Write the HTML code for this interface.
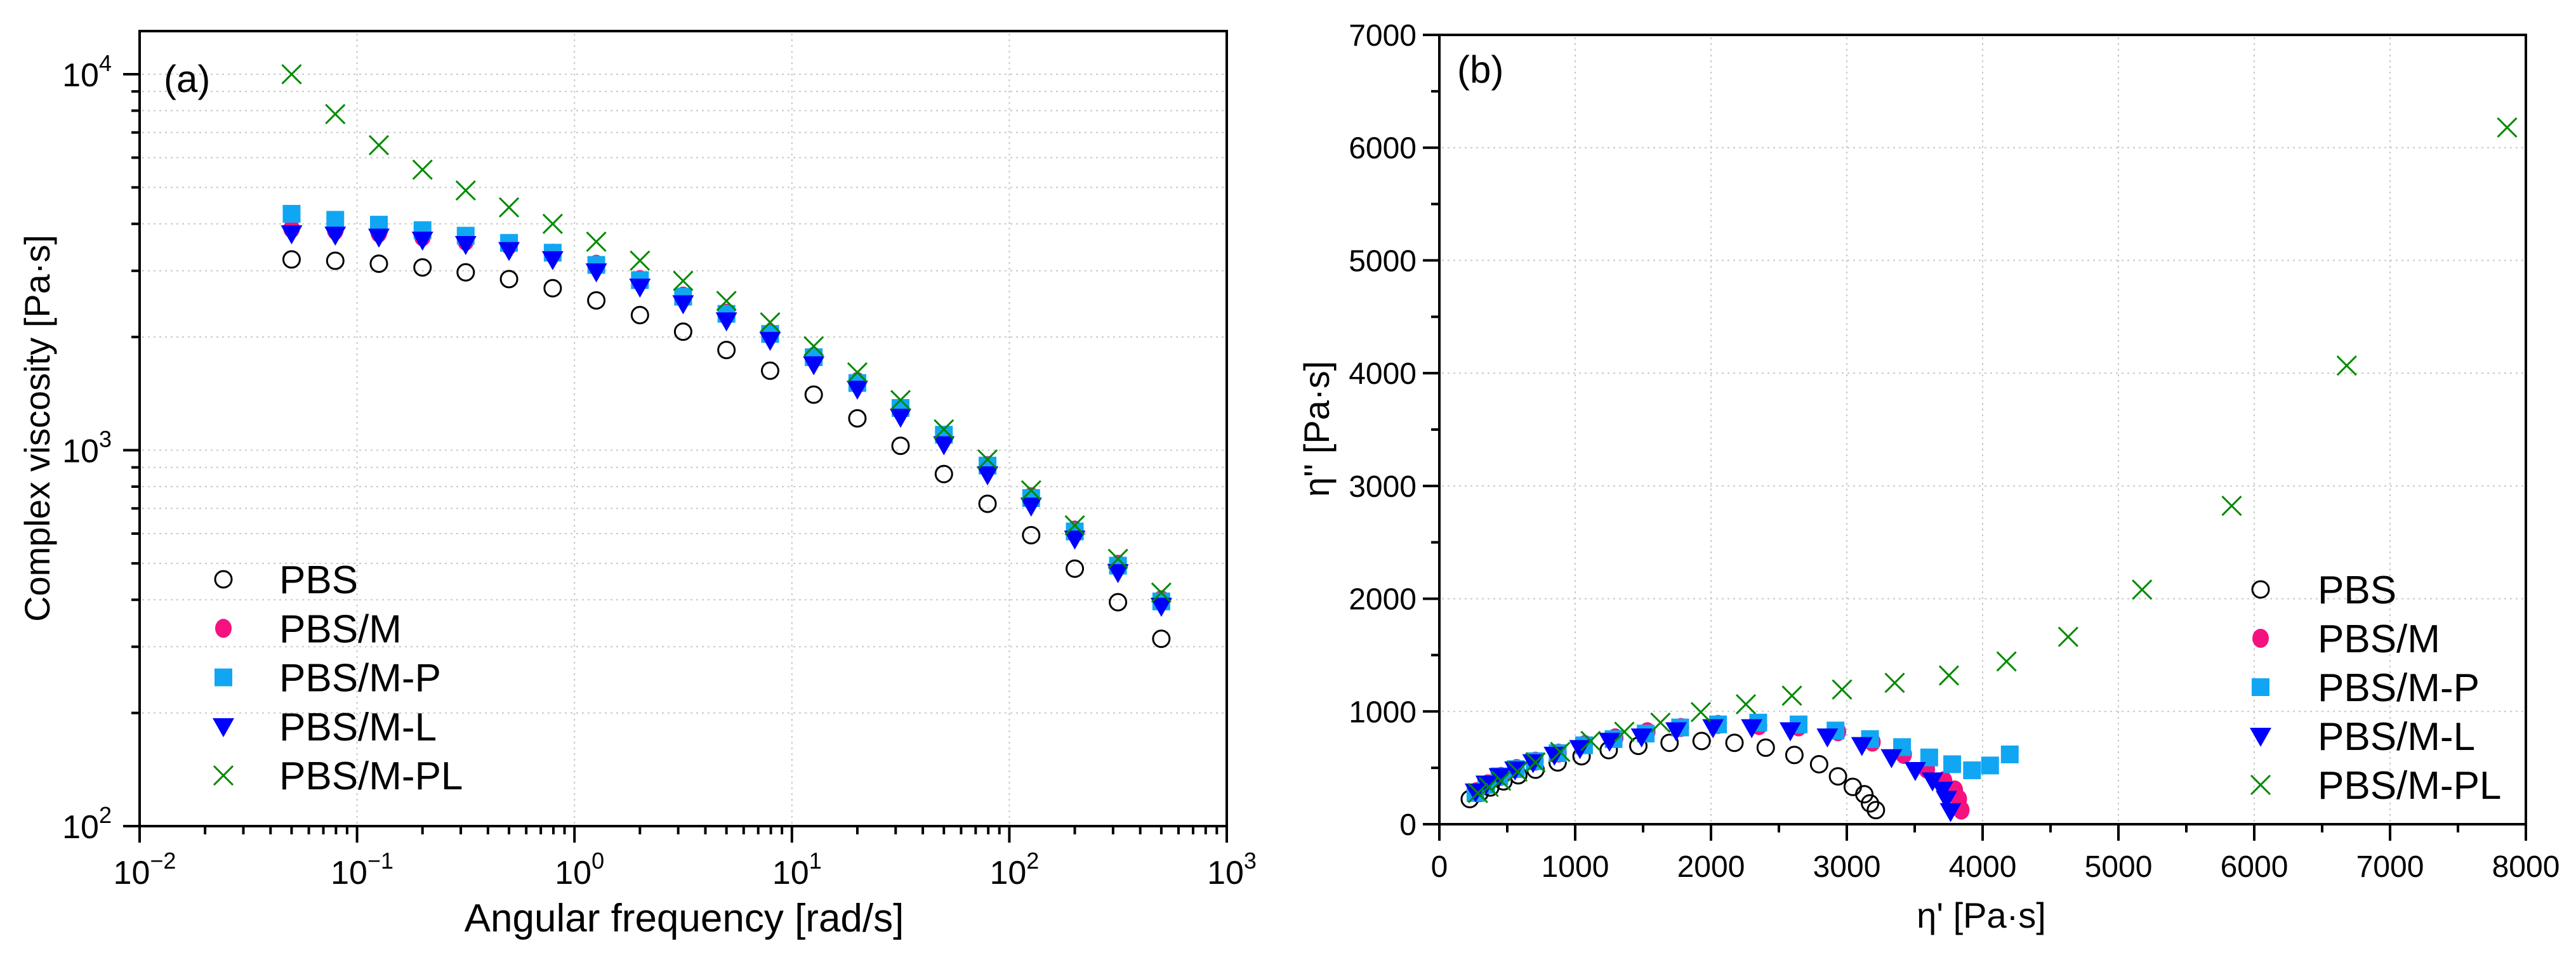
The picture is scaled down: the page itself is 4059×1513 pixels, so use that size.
<!DOCTYPE html>
<html><head><meta charset="utf-8">
<style>
html,body{margin:0;padding:0;background:#fff;}
svg{display:block;font-family:"Liberation Sans",Arial,sans-serif;}
</style></head>
<body>
<svg id="fig" width="4059" height="1513" viewBox="0 0 4059 1513" xmlns="http://www.w3.org/2000/svg">
<rect x="0" y="0" width="4059" height="1513" fill="#fff"/>
<g id="pa"></g>
<g id="pb"></g>
</svg>
<script>
// ---------- Panel (a) data ----------
const freq = [0.05,0.0794,0.126,0.2,0.316,0.5,0.794,1.26,2,3.16,5,7.94,12.6,20,31.6,50,79.4,126,200,316,500];
const etaPBS = [3216,3190,3133,3063,2971,2852,2697,2502,2287,2066,1847,1627,1405,1215,1027,864,720,594,484,394,315];
const etaM = [3883,3838,3779,3692,3594,3505,3340,3122,2843,2570,2314,2045,1775,1522,1295,1095,910,752,613,497,400];
const etaMP = [4254,4100,3980,3849,3720,3560,3352,3110,2833,2560,2305,2038,1767,1509,1295,1099,910,746,608,493,396];
const etaML = [3768,3737,3692,3625,3530,3402,3216,2984,2719,2455,2211,1963,1690,1455,1225,1035,861,711,581,473,385];
const etaMPL = [10000,7834,6476,5573,4907,4424,4000,3585,3193,2821,2494,2188,1890,1610,1359,1136,945,782,631,514,418];
const xTickExpA = [-2,-1,0,1,2,3];
const yTickExpA = [2,3,4];

// ---------- Panel (b) data ----------
const pbsRe = [3214,3171,3129,3044,2935,2796,2614,2403,2173,1931,1695,1465,1247,1047,871,708,581,472,375,297,224];
const pbsIm = [125,185,266,331,424,532,614,679,722,738,722,695,657,603,548,483,434,380,326,277,223];
const mRe = [3843,3825,3795,3716,3589,3419,3189,2935,2645,2354,2052,1779,1531,1295,1071,878,708,569,454,357,272];
const mIm = [125,223,304,386,489,619,728,820,863,874,885,858,820,766,706,630,559,494,424,358,288];
const mpRe = [4200,4055,3922,3776,3607,3407,3171,2917,2645,2348,2052,1773,1519,1283,1065,871,702,563,442,345,266];
const mpIm = [619,521,478,532,592,684,755,831,885,901,885,858,804,755,700,630,559,489,424,348,277];
const mlRe = [3764,3734,3704,3631,3504,3329,3111,2857,2584,2300,2015,1743,1489,1253,1035,847,690,557,442,345,266];
const mlIm = [114,223,304,386,478,592,700,776,831,858,858,831,776,738,673,614,548,483,424,358,288];
const mplRe = [7862,6681,5834,5174,4630,4176,3752,3353,2965,2596,2257,1925,1628,1362,1114,890,708,575,454,363,284];
const mplIm = [6179,4067,2824,2080,1662,1444,1319,1254,1195,1140,1064,994,901,820,738,641,548,467,386,331,277];
const xTicksB = [0,1000,2000,3000,4000,5000,6000,7000,8000];
const yTicksB = [0,1000,2000,3000,4000,5000,6000,7000];

const legendNames = ["PBS","PBS/M","PBS/M-P","PBS/M-L","PBS/M-PL"];

const NS = "http://www.w3.org/2000/svg";
function mk(tag, attrs, parent){
  const e = document.createElementNS(NS, tag);
  for (const k in attrs) e.setAttribute(k, attrs[k]);
  parent.appendChild(e);
  return e;
}
const A = {L:220, R:1933, T:49, B:1302};
const axA = {
  x: v => A.L + (Math.log10(v) + 2) * (A.R - A.L) / 5,
  y: v => 1302 - (Math.log10(v) - 2) * 592.5
};
const B = {L:2268, R:3980, T:55, B:1299};
const axB = {
  x: v => B.L + v * (B.R - B.L) / 8000,
  y: v => B.B - v * (B.B - B.T) / 7000
};

function marker(kind, cx, cy, g){
  let e;
  if (kind === 0){
    e = mk('circle',{cx:cx,cy:cy,r:13,fill:'none',stroke:'#000','stroke-width':3},g);
  } else if (kind === 1){
    e = mk('ellipse',{cx:cx,cy:cy,rx:13,ry:15,fill:'#f5127f'},g);
  } else if (kind === 2){
    e = mk('rect',{x:cx-14,y:cy-14,width:28,height:28,fill:'#11a6f3'},g);
  } else if (kind === 3){
    e = mk('path',{d:`M${cx-17},${cy-13} L${cx+17},${cy-13} L${cx},${cy+17} Z`,fill:'#0000ff'},g);
  } else {
    e = mk('path',{d:`M${cx-15},${cy-15} L${cx+15},${cy+15} M${cx-15},${cy+15} L${cx+15},${cy-15}`,stroke:'#008a00','stroke-width':3,fill:'none'},g);
  }
  return e;
}

function frame(g, F){
  const r = mk('rect',{x:F.L,y:F.T,width:F.R-F.L,height:F.B-F.T,fill:'none',stroke:'#000','stroke-width':4},g);
  
  
}
function grid(g, x1,y1,x2,y2){
  const l = mk('line',{x1:x1,y1:y1,x2:x2,y2:y2,stroke:'#c8c8c8','stroke-width':2,'stroke-dasharray':'3 6'},g);
  
  
}
function tick(g,x1,y1,x2,y2){
  const l = mk('line',{x1:x1,y1:y1,x2:x2,y2:y2,stroke:'#000','stroke-width':4},g);
  
  
}
function txt(g, s, x, y, size, anchor, name){
  const t = mk('text',{x:x,y:y,'font-size':size,'text-anchor':anchor||'start',fill:'#000'},g);
  t.textContent = s;
  
  
  return t;
}
function pow10(g, exp, x, y, anchor, name){
  const t = mk('text',{x:x,y:y,'font-size':52,'text-anchor':anchor,fill:'#000'},g);
  
  
  const a = mk('tspan',{},t); a.textContent = '10';
  const b = mk('tspan',{dy:-24,'font-size':36},t); b.textContent = exp < 0 ? '\u2212' + (-exp) : String(exp);
}

// ---------- Panel A ----------
const ga = document.getElementById('pa');
for (let d = 2; d <= 4; d++){
  for (let m = 1; m <= 9; m++){
    const v = m * Math.pow(10,d);
    const yy = axA.y(v);
    if (yy < A.T + 2 || yy > A.B - 2) continue;
    grid(ga, A.L+4, yy, A.R-4, yy);
  }
}
for (const e of xTickExpA){
  const xx = axA.x(Math.pow(10,e));
  if (xx > A.L + 3 && xx < A.R - 3) grid(ga, xx, A.T+4, xx, A.B-4);
}
for (const e of xTickExpA){
  const xx = axA.x(Math.pow(10,e));
  tick(ga, xx, A.B, xx, A.B+26);
  pow10(ga, e, xx+8, 1393, 'middle', 'x-tick-label');
  if (e < 3){
    for (let m = 2; m <= 9; m++){
      const xm = axA.x(m*Math.pow(10,e));
      tick(ga, xm, A.B, xm, A.B+13);
    }
  }
}
for (const e of yTickExpA){
  const yy = axA.y(Math.pow(10,e));
  tick(ga, A.L-26, yy, A.L, yy);
  pow10(ga, e, 176, yy+19, 'end', 'y-tick-label');
  if (e < 4){
    for (let m = 2; m <= 9; m++){
      const ym = axA.y(m*Math.pow(10,e));
      tick(ga, A.L-13, ym, A.L, ym);
    }
  }
}
{ const ym = axA.y(2e4); if (ym >= A.T) tick(ga, A.L-13, ym, A.L, ym); }
frame(ga, A);
txt(ga, 'Angular frequency [rad/s]', 1078, 1468, 62, 'middle', 'x-axis-title');
{
  const t = txt(ga, 'Complex viscosity [Pa\u00b7s]', 0, 0, 56, 'middle', 'y-axis-title');
  t.setAttribute('transform','translate(78,675) rotate(-90)');
}
txt(ga, '(a)', 258, 145, 60, 'start', 'panel-label-a');
const seriesA = [etaPBS, etaM, etaMP, etaML, etaMPL];
seriesA.forEach((s, k) => {
  const g = mk('g',{},ga);
  
  
  s.forEach((v, i) => {
    const m = marker(k, axA.x(freq[i]), axA.y(v), g);
    
    
  });
});
const legA = mk('g',{},ga);


legendNames.forEach((n,k) => {
  const yy = 913 + k*77.3;
  const m = marker(k, 352, yy, legA);
  
  
  txt(legA, n, 440, yy+22, 62, 'start', 'legend-entry');
});

// ---------- Panel B ----------
const gb = document.getElementById('pb');
for (const v of xTicksB){
  const xx = axB.x(v);
  if (xx > B.L+3 && xx < B.R-3) grid(gb, xx, B.T+4, xx, B.B-4);
}
for (const v of yTicksB){
  const yy = axB.y(v);
  if (yy > B.T+3 && yy < B.B-3) grid(gb, B.L+4, yy, B.R-4, yy);
}
xTicksB.forEach((v,i) => {
  const xx = axB.x(v);
  tick(gb, xx, B.B, xx, B.B+26);
  txt(gb, String(v), xx, 1382, 48, 'middle', 'x-tick-label');
  if (i < xTicksB.length-1){
    const xm = axB.x(v+500);
    tick(gb, xm, B.B, xm, B.B+13);
  }
});
yTicksB.forEach((v,i) => {
  const yy = axB.y(v);
  tick(gb, B.L-26, yy, B.L, yy);
  txt(gb, String(v), 2232, yy+17, 48, 'end', 'y-tick-label');
  if (i < yTicksB.length-1){
    const ym = axB.y(v+500);
    tick(gb, B.L-13, ym, B.L, ym);
  }
});
frame(gb, B);
txt(gb, "\u03b7' [Pa\u00b7s]", 3122, 1462, 56, 'middle', 'x-axis-title');
{
  const t = txt(gb, "\u03b7'' [Pa\u00b7s]", 0, 0, 56, 'middle', 'y-axis-title');
  t.setAttribute('transform','translate(2094,676) rotate(-90)');
}
txt(gb, '(b)', 2296, 130, 60, 'start', 'panel-label-b');
const reB = [pbsRe, mRe, mpRe, mlRe, mplRe];
const imB = [pbsIm, mIm, mpIm, mlIm, mplIm];
reB.forEach((s,k) => {
  const g = mk('g',{},gb);
  
  
  s.forEach((v,i) => {
    const m = marker(k, axB.x(v), axB.y(imB[k][i]), g);
    
    
  });
});
const legB = mk('g',{},gb);


legendNames.forEach((n,k) => {
  const yy = 929 + k*77;
  const m = marker(k, 3562, yy, legB);
  
  
  txt(legB, n, 3652, yy+22, 62, 'start', 'legend-entry');
});
</script>
</body></html>
